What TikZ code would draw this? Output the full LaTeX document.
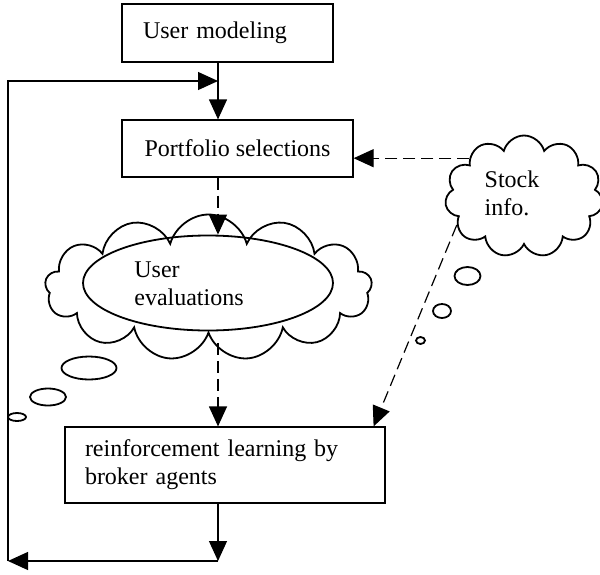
\documentclass[tikz,border=0pt]{standalone}
\usepackage{fontspec}
\setmainfont{Liberation Serif}
\usetikzlibrary{arrows.meta,calc,shapes.geometric,shapes.symbols}
\tikzset{box/.style={draw,rectangle,line width=0.6pt,inner ysep=0pt}}
\tikzset{sline/.style={draw,line width=0.6pt,-{Triangle[length=10pt,width=9pt]}}}
\tikzset{dline/.style={sline,dash pattern=on 6pt off 3pt}}
\tikzset{puff/.style={draw,cloud,cloud puffs=13,cloud ignores aspect,line width=0.9pt,inner sep=0pt}}
\tikzset{bubble/.style={draw,line width=0.9pt}}
\tikzset{txt/.style={align=left,inner sep=0pt}}

\begin{document}
\begin{tikzpicture}[x=0.5pt,y=-0.5pt,font=\fontsize{12}{14}\selectfont]
    \useasboundingbox (0,0) rectangle (600,574);

    % process boxes
    \node[box,text width=84.5pt,inner xsep=10.5pt,minimum height=29pt,align=left] (model) at (227.5,33) {User modeling};
    \node[box,minimum width=115.5pt,minimum height=28.5pt,align=center] (port) at (237.5,148.5) {Portfolio selections};
    \node[box,text width=140pt,inner xsep=10pt,minimum height=38pt,align=left] (learn) at (225,465) {reinforcement learning by\\broker agents};

    % clouds
    \node[puff,minimum width=163.5pt,minimum height=73pt] (evalcloud) at (208.5,287.5) {};
    \node[draw,ellipse,line width=0.9pt,minimum width=125pt,minimum height=47.5pt,inner sep=0pt] (evalell) at (208,283) {};
    \node[txt] (evaltxt) at (189,284) {User\\evaluations};
    \node[puff,cloud puffs=11,minimum width=79pt,minimum height=61pt] (stock) at (524,196.5) {};
    \node[txt] (stocktxt) at (512,193) {Stock\\info.};

    % thought bubbles
    \foreach \cx/\cy/\rx/\ry in {467.5/276/13/9, 442/311/9/7, 420.5/340.5/4.5/3.5,
                                 89/368/27.5/11.5, 48/397/18/8.5, 17/417/9/4}
      \draw[bubble] (\cx,\cy) ellipse [x radius=\rx, y radius=\ry];

    % feedback loop corners
    \coordinate (spine) at (218,0);
    \coordinate (topR) at (218,81);
    \coordinate (topL) at (8,81);
    \coordinate (botR) at (218,561);
    \coordinate (botL) at (8,561);

    \draw[sline] (model.south -| spine) -- (port.north -| spine);
    \draw[dline] (port.south -| spine) -- (evalell.north -| spine);
    \draw[dline,shorten <=4pt] (evalcloud.south -| spine) -- (learn.north -| spine);
    \draw[sline] (learn.south -| spine) -- (botR);
    \draw[sline] (botR) -- (botL);
    \draw[sline] (botL) -- (topL) -- (topR);

    \draw[dline] (stock.145) -- (stock.145 -| port.east);
    \draw[dline] (stock.203) -- ($(learn.north east)+(-12,0)$);
\end{tikzpicture}
\end{document}
